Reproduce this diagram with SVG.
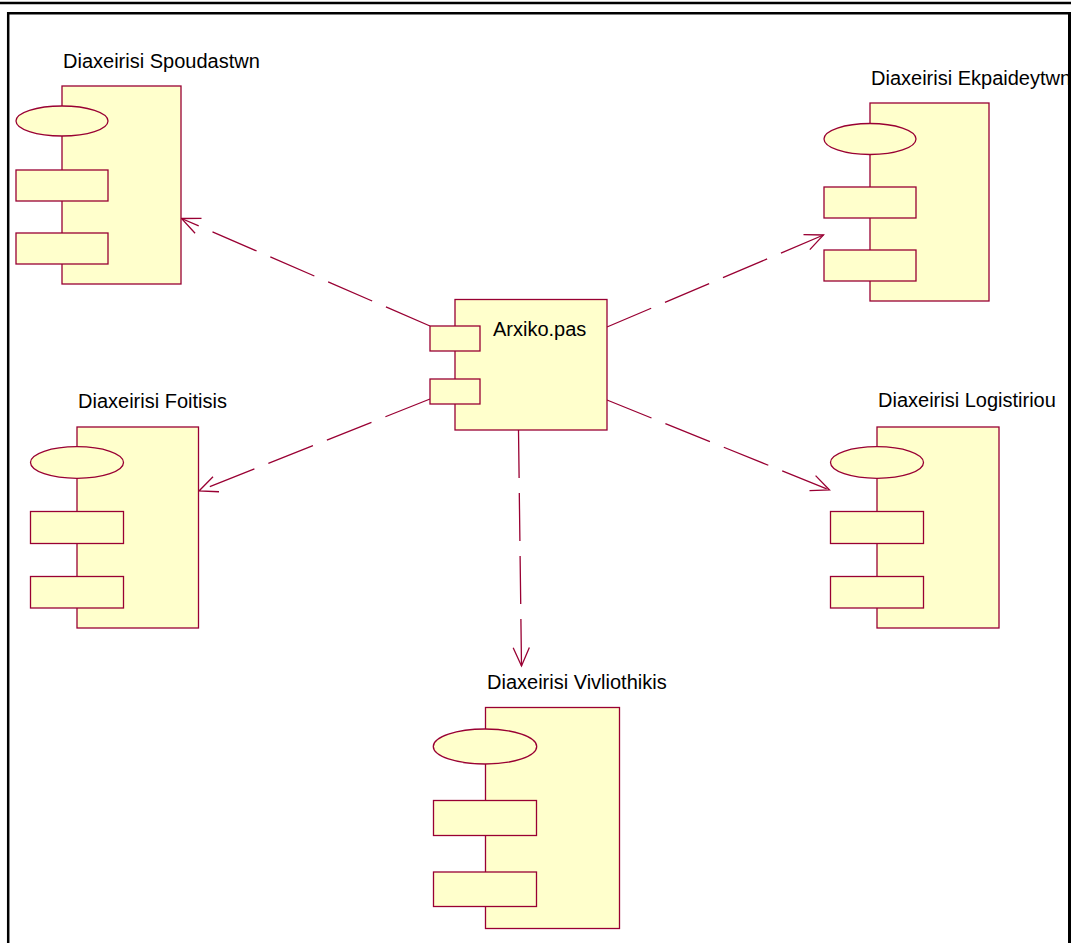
<svg xmlns="http://www.w3.org/2000/svg" width="1071" height="943" viewBox="0 0 1071 943">
<style>
.body{fill:#FFFFCC;stroke:#990033;stroke-width:1.3}
.lbl{font-family:"Liberation Sans",Arial,sans-serif;font-size:20px;fill:#000}
.dep{fill:none;stroke:#990033;stroke-width:1.3;stroke-dasharray:48 15;marker-end:url(#arr)}
</style>
<defs>
<marker id="arr" markerUnits="userSpaceOnUse" markerWidth="40" markerHeight="40" refX="0" refY="0" orient="auto" overflow="visible">
<path d="M-18.3,-8.1 L0,0 L-18.3,8.1" fill="none" stroke="#990033" stroke-width="1.3"/>
</marker>
</defs>
<rect width="1071" height="943" fill="#ffffff"/>
<g id="connectors">
<line class="dep" x1="430" y1="326" x2="181.5" y2="218.5"/>
<line class="dep" x1="430" y1="399" x2="199" y2="491"/>
<line class="dep" x1="607" y1="327" x2="823.5" y2="235"/>
<line class="dep" x1="607" y1="400" x2="829.5" y2="490"/>
<line class="dep" x1="518.5" y1="430" x2="521.5" y2="666"/>
</g>
<g id="node-spoudastwn">
<text class="lbl" x="63" y="68">Diaxeirisi Spoudastwn</text>
<rect class="body" x="62" y="86" width="119" height="198"/>
<ellipse class="body" cx="62" cy="121" rx="46" ry="15"/>
<rect class="body" x="16" y="170" width="92" height="31"/>
<rect class="body" x="16" y="233" width="92" height="31"/>
</g>
<g id="node-ekpaideytwn">
<text class="lbl" x="871" y="85">Diaxeirisi Ekpaideytwn</text>
<rect class="body" x="870" y="103" width="119" height="198"/>
<ellipse class="body" cx="870" cy="139" rx="46" ry="15.5"/>
<rect class="body" x="824" y="187" width="92" height="31"/>
<rect class="body" x="824" y="250" width="92" height="31"/>
</g>
<g id="node-foitisis">
<text class="lbl" x="78" y="408">Diaxeirisi Foitisis</text>
<rect class="body" x="77" y="427" width="121.5" height="201"/>
<ellipse class="body" cx="77" cy="462.5" rx="46.5" ry="15.8"/>
<rect class="body" x="30.5" y="511.5" width="93" height="32"/>
<rect class="body" x="30.5" y="576.5" width="93" height="31.5"/>
</g>
<g id="node-logistiriou">
<text class="lbl" x="878" y="407">Diaxeirisi Logistiriou</text>
<rect class="body" x="877" y="427" width="122" height="201"/>
<ellipse class="body" cx="877" cy="462.5" rx="46.5" ry="15.8"/>
<rect class="body" x="830.5" y="511.5" width="93" height="32"/>
<rect class="body" x="830.5" y="576.5" width="93" height="31.5"/>
</g>
<g id="node-vivliothikis">
<text class="lbl" x="487" y="689">Diaxeirisi Vivliothikis</text>
<rect class="body" x="485.5" y="707.5" width="134" height="221"/>
<ellipse class="body" cx="485" cy="746.5" rx="51.7" ry="17.5"/>
<rect class="body" x="433.5" y="800.5" width="103" height="35"/>
<rect class="body" x="433.5" y="872" width="103" height="34.5"/>
</g>
<g id="node-arxiko">
<rect class="body" x="455" y="299.5" width="152" height="130.5"/>
<rect class="body" x="430" y="326" width="50" height="25"/>
<rect class="body" x="430" y="379" width="50" height="25"/>
<text class="lbl" x="493" y="336">Arxiko.pas</text>
</g>
<g id="frame" fill="none" stroke="#000">
<line x1="0" y1="3" x2="1071" y2="3" stroke-width="2.3"/>
<polyline points="8.2,943 8.2,13.3 1068,13.3" stroke-width="2.5"/>
<line x1="1069.5" y1="12" x2="1069.5" y2="943" stroke-width="3"/>
</g>
</svg>
